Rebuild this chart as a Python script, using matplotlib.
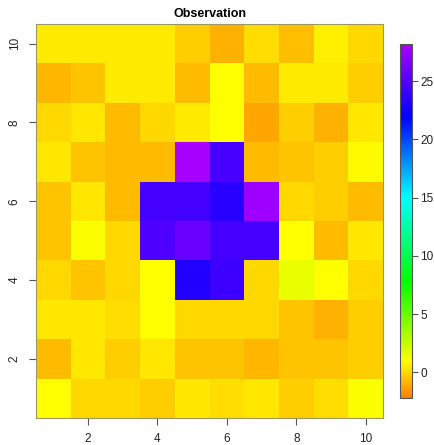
import matplotlib
matplotlib.use("Agg")
import matplotlib.pyplot as plt
import numpy as np
import matplotlib.colors as mcolors

plt.rcParams['font.family'] = ['Liberation Sans', 'DejaVu Sans']

# grid coordinates
x_vals = np.arange(1, 11)
y_vals = np.arange(1, 11)

# observed values, one list per row, top row (y=10) first
row_y10 = [0.5, 0.5, 0.5, 0.5, -0.25, -0.95, 0.1, -0.65, 0.6, -0.05]
row_y9 = [-0.8, -0.45, 0.45, 0.45, -0.7, 0.9, -0.7, 0.45, 0.45, -0.25]
row_y8 = [-0.05, 0.4, -0.7, 0.0, 0.5, 0.9, -1.25, -0.25, -0.95, 0.4]
row_y7 = [0.4, -0.45, -0.7, -0.7, 28.2, 24.6, -0.7, -0.45, -0.25, 0.8]
row_y6 = [-0.45, 0.4, -0.7, 24.5, 24.5, 23.4, 27.8, -0.05, -0.25, -0.7]
row_y5 = [-0.45, 1.1, -0.05, 24.8, 25.8, 24.5, 24.5, 0.9, -0.7, 0.4]
row_y4 = [-0.05, -0.45, -0.05, 0.9, 23.2, 24.2, -0.05, 1.5, 0.9, -0.05]
row_y3 = [0.4, 0.4, 0.15, 0.9, 0.05, 0.05, -0.05, -0.45, -0.95, -0.25]
row_y2 = [-0.7, 0.4, -0.25, 0.4, -0.45, -0.45, -0.85, -0.45, -0.45, -0.25]
row_y1 = [0.9, 0.05, 0.05, -0.25, 0.4, 0.15, 0.4, -0.25, 0.15, 1.1]

z = np.array([row_y1, row_y2, row_y3, row_y4, row_y5,
              row_y6, row_y7, row_y8, row_y9, row_y10])

zmin, zmax = -2.2, 28.2

# rainbow-like palette: orange -> yellow -> green -> cyan -> blue -> purple
anchors = [(-2.2, "#ff8000"), (0.9, "#ffff00"), (7.8, "#00ff00"),
           (15.0, "#00ffff"), (22.0, "#0000ff"), (28.2, "#a800ff")]
cmap = mcolors.LinearSegmentedColormap.from_list(
    "obs", [((v - zmin) / (zmax - zmin), c) for v, c in anchors])
norm = mcolors.Normalize(vmin=zmin, vmax=zmax)

fig = plt.figure(figsize=(4.34, 4.45), dpi=100)
ax = fig.add_axes([0.083, 0.0607, 0.7995, 0.8854])

xe = np.append(x_vals - 0.5, x_vals[-1] + 0.5)
ye = np.append(y_vals - 0.5, y_vals[-1] + 0.5)
ax.pcolormesh(xe, ye, z, cmap=cmap, norm=norm, shading="flat")

ax.set_xlim(0.5, 10.5)
ax.set_ylim(0.5, 10.5)
ax.set_xticks([2, 4, 6, 8, 10])
ax.set_yticks([2, 4, 6, 8, 10])
for lbl in ax.get_yticklabels():
    lbl.set_rotation(90)
    lbl.set_va("center")
ax.tick_params(length=5, width=0.8, color="#555555", labelsize=8.5,
               labelcolor="#222222", pad=6)
for s in ax.spines.values():
    s.set_color("#9a9a60")
    s.set_linewidth(0.8)

ax.set_title("Observation", fontsize=9, fontweight="bold", pad=5)

cax = fig.add_axes([0.9217, 0.1056, 0.0276, 0.7955])
sm = plt.cm.ScalarMappable(cmap=cmap, norm=norm)
cb = fig.colorbar(sm, cax=cax)
cb.set_ticks([0, 5, 10, 15, 20, 25])
cb.outline.set_edgecolor("#555555")
cb.outline.set_linewidth(0.8)
cax.tick_params(length=4, width=0.8, color="#555555", labelsize=8.5,
                labelcolor="#222222", pad=2)

fig.savefig("out.png", dpi=100)
